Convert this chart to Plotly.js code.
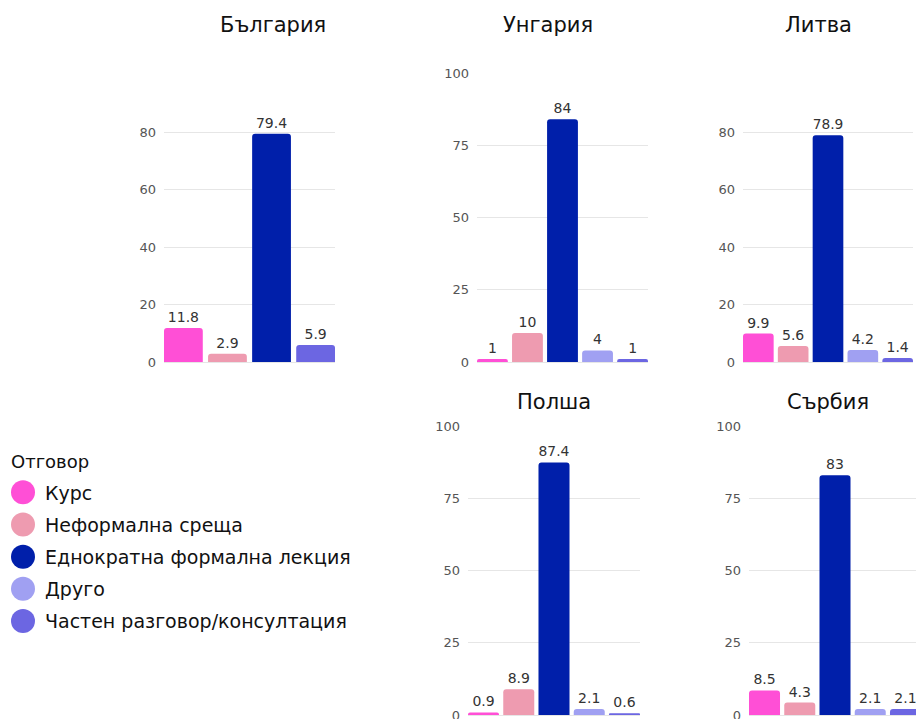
<!DOCTYPE html>
<html>
<head>
<meta charset="utf-8">
<script src="https://cdn.plot.ly/plotly-3.0.1.min.js"></script>
<style>
html, body { margin: 0; padding: 0; overflow: hidden; background: #fff; }
#chart { width: 926px; height: 719px; }
</style>
</head>
<body>
<div id="chart"></div>
<script>
// ---- data ----
const categories = ['Курс', 'Неформална среща', 'Еднократна формална лекция', 'Друго', 'Частен разговор/консултация'];
const colors = ['#FF4FD6', '#EE9BB0', '#001FAA', '#A0A0F2', '#6C66E2'];
const countries = ['България', 'Унгария', 'Литва', 'Полша', 'Сърбия'];
const bulgaria = [11.8, 2.9, 79.4, null, 5.9];
const hungary = [1, 10, 84, 4, 1];
const lithuania = [9.9, 5.6, 78.9, 4.2, 1.4];
const poland = [0.9, 8.9, 87.4, 2.1, 0.6];
const serbia = [8.5, 4.3, 83, 2.1, 2.1];
const seriesByCountry = [bulgaria, hungary, lithuania, poland, serbia];

// ---- layout geometry ----
const W = 926, H = 719;
const FONT = 'DejaVu Sans, sans-serif';
const boxes = [ // [left, right, top, bottom] px
  [164, 335, 120.5, 362],
  [477, 648, 73, 362],
  [743, 913, 120.5, 362],
  [468, 640, 426, 715],
  [749, 921, 426, 715]
];
const yRanges = [[0, 84], [0, 100], [0, 84], [0, 100], [0, 100]];
const yDticks = [20, 25, 20, 25, 25];
const titlePos = [[273, 25], [548, 25], [818, 25], [554, 402], [828, 402]];

const traces = [];
const layout = {
  width: W, height: H,
  margin: {l: 0, r: 0, t: 0, b: 0},
  paper_bgcolor: '#fff', plot_bgcolor: '#fff',
  font: {family: FONT, color: '#222'},
  bargap: 0.12,
  barcornerradius: 3,
  showlegend: true,
  legend: {
    x: 9 / W, y: 1 - 450 / H, xanchor: 'left', yanchor: 'top',
    title: {text: 'Отговор', font: {size: 18, color: '#111', family: FONT}},
    font: {size: 19, color: '#111', family: FONT},
    tracegroupgap: 4.5,
    itemwidth: 30
  },
  annotations: []
};

seriesByCountry.forEach((vals, i) => {
  const xs = [], ys = [], cs = [], ts = [];
  vals.forEach((v, j) => {
    if (v === null) return;
    xs.push(categories[j]); ys.push(v); cs.push(colors[j]); ts.push(String(v));
  });
  const n = xs.length;
  const ax = i === 0 ? '' : String(i + 1);
  traces.push({
    type: 'bar', x: xs, y: ys, text: ts,
    textposition: 'outside', cliponaxis: false,
    textfont: {size: 14, color: '#333', family: FONT},
    marker: {color: cs},
    xaxis: 'x' + ax, yaxis: 'y' + ax,
    showlegend: false, hoverinfo: 'x+y'
  });
  const b = boxes[i];
  layout['xaxis' + ax] = {
    domain: [b[0] / W, b[1] / W],
    anchor: 'y' + ax,
    type: 'category',
    range: [-0.44, n - 1 + 0.44],
    showticklabels: false, showgrid: false, zeroline: false, showline: false, ticks: ''
  };
  layout['yaxis' + ax] = {
    domain: [1 - b[3] / H, 1 - b[2] / H],
    anchor: 'x' + ax,
    range: yRanges[i],
    dtick: yDticks[i], tick0: 0,
    showgrid: true, gridcolor: '#e6e6e6', gridwidth: 1,
    zeroline: true, zerolinecolor: '#e6e6e6',
    showline: false, ticks: '',
    ticklabelstandoff: 7,
    ticklabeloverflow: 'allow',
    tickfont: {size: 13, color: '#555', family: FONT}
  };
  layout.annotations.push({
    text: countries[i], xref: 'paper', yref: 'paper',
    x: titlePos[i][0] / W, y: 1 - titlePos[i][1] / H,
    xanchor: 'center', yanchor: 'middle', showarrow: false,
    font: {size: 21, color: '#111', family: FONT}
  });
});

// legend entries (circle markers)
categories.forEach((c, j) => {
  traces.push({
    type: 'scatter', mode: 'markers', x: [null], y: [null],
    name: c, legendgroup: 'g' + j,
    marker: {symbol: 'circle', size: 16, color: colors[j]},
    xaxis: 'x', yaxis: 'y', hoverinfo: 'skip'
  });
});

Plotly.newPlot('chart', traces, layout, {displayModeBar: false, staticPlot: true}).then(() => {
  document.querySelectorAll('.legend .legendpoints path.scatterpts').forEach(p => {
    const t = p.getAttribute('transform') || '';
    p.setAttribute('transform', 'translate(-6,0) ' + t + ' scale(1.5)');
  });
  document.querySelectorAll('.legend .legendtext').forEach(tx => {
    const x = parseFloat(tx.getAttribute('x') || '0');
    tx.setAttribute('x', x - 4);
  });
  document.querySelectorAll('.legend .legendtitletext').forEach(tx => {
    const t = tx.getAttribute('transform') || '';
    tx.setAttribute('transform', 'translate(0,-5) ' + t);
  });
});
</script>
</body>
</html>
